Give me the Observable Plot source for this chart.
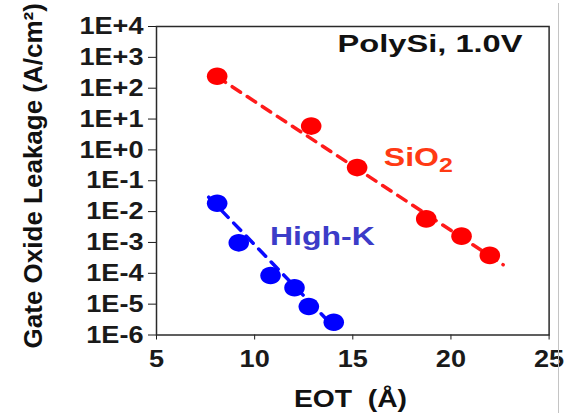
<!DOCTYPE html>
<html><head><meta charset="utf-8">
<script src="https://cdn.jsdelivr.net/npm/d3@7"></script>
<script src="https://cdn.jsdelivr.net/npm/@observablehq/plot@0.6"></script>
<style>
html,body{margin:0;padding:0;background:#fff;}
#wrap{position:relative;width:569px;height:413px;overflow:hidden;}
#edge{position:absolute;left:558px;top:3px;width:1px;height:410px;background:#c4c4c4;}
</style></head><body>
<div id="wrap"><div id="chart"></div><div id="edge"></div></div>
<script>
// ---- data ----
const sio2EOT  = [8.09, 12.88, 15.22, 18.74, 20.54, 21.98];
const sio2Leak = [243, 5.9, 0.267, 0.0058, 0.0016, 0.00038];
const highkEOT  = [8.09, 9.19, 10.81, 12.03, 12.76, 14.03];
const highkLeak = [0.0187, 9.7e-4, 8.5e-5, 3.4e-5, 8.4e-6, 2.6e-6];
const sio2FitEOT  = [8.09, 22.66];
const sio2FitLeak = [234, 1.9e-4];
const highkFitEOT  = [7.66, 14.12];
const highkFitLeak = [0.0293, 1.6e-6];
const xTicks = [5, 10, 15, 20, 25];
const yTicks = [1e-6, 1e-5, 1e-4, 1e-3, 1e-2, 1e-1, 1e0, 1e1, 1e2, 1e3, 1e4];
const yTickLabels = ["1E-6","1E-5","1E-4","1E-3","1E-2","1E-1","1E+0","1E+1","1E+2","1E+3","1E+4"];
const xLabel = "EOT\u00A0\u00A0(Å)";
const yLabel = "Gate Oxide Leakage (A/cm²)";
const titleText = "PolySi, 1.0V";
const seriesNames = ["SiO2", "High-K"];
const seriesLabelEOT = [16.58, 10.78];
const seriesLabelLeak = [1.09, 3.1e-3];

const rows = (xs, ys) => xs.map((x, i) => ({x, y: ys[i]}));
const yLabelOf = new Map(yTicks.map((t, i) => [t, yTickLabels[i]]));

// ellipse symbol (dots in the reference are slightly wider than tall)
const ellipse = {
  draw(ctx, size) {
    const r = Math.sqrt(size / Math.PI), a = r * 1.17, b = r, k = 0.5523;
    ctx.moveTo(a, 0);
    ctx.bezierCurveTo(a, k * b, k * a, b, 0, b);
    ctx.bezierCurveTo(-k * a, b, -a, k * b, -a, 0);
    ctx.bezierCurveTo(-a, -k * b, -k * a, -b, 0, -b);
    ctx.bezierCurveTo(k * a, -b, a, -k * b, a, 0);
    ctx.closePath();
  }
};

const FONT = "'Liberation Sans', Arial, Helvetica, sans-serif";
const svg = Plot.plot({
  width: 569, height: 413,
  marginLeft: 156, marginRight: 20.4, marginTop: 26, marginBottom: 78.5,
  style: {fontFamily: FONT, fontSize: "24px", fontWeight: "bold", color: "#1a1a1a", background: "#fff", overflow: "visible"},
  x: {domain: [5, 25], ticks: xTicks, tickSize: 5, tickPadding: 10, label: null, tickFormat: d => String(d)},
  y: {type: "log", domain: [1e-6, 1e4], ticks: yTicks, tickSize: 8, tickPadding: 5, label: null,
      tickFormat: d => yLabelOf.get(d) ?? ""},
  marks: [
    Plot.line(rows(sio2FitEOT, sio2FitLeak), {x: "x", y: "y", stroke: "#ff1a1a", strokeWidth: 3.5, strokeDasharray: "10,8"}),
    Plot.line(rows(highkFitEOT, highkFitLeak), {x: "x", y: "y", stroke: "#0a0aff", strokeWidth: 3.5, strokeDasharray: "10,8"}),
    Plot.dot(rows(sio2EOT, sio2Leak), {x: "x", y: "y", r: 8.8, symbol: ellipse, fill: "#ff0000", stroke: "none"}),
    Plot.dot(rows(highkEOT, highkLeak), {x: "x", y: "y", r: 8.8, symbol: ellipse, fill: "#0000ff", stroke: "none"}),
    Plot.text([seriesNames[0]], {x: [seriesLabelEOT[0]], y: [seriesLabelLeak[0]], text: d => d, textAnchor: "start", lineAnchor: "top", fontSize: 25, fill: "#ff3a14"}),
    Plot.text([seriesNames[1]], {x: [seriesLabelEOT[1]], y: [seriesLabelLeak[1]], text: d => d, textAnchor: "start", lineAnchor: "top", fontSize: 25, fill: "#3c3cc8"}),
    Plot.text([titleText], {frameAnchor: "top-right", text: d => d, textAnchor: "end", lineAnchor: "top", dx: -26.6, dy: 8.3, fontSize: 24, fill: "#111"}),
    Plot.text([xLabel], {frameAnchor: "bottom", text: d => d, textAnchor: "middle", lineAnchor: "top", dx: -2.3, dy: 55.5, fontSize: 23, fill: "#111"}),
    Plot.text([yLabel], {frameAnchor: "left", text: d => d, rotate: -90, textAnchor: "middle", lineAnchor: "top", dx: -133, dy: -5, fontSize: 26, fill: "#111"}),
    Plot.frame({stroke: "#2a2a2a", strokeWidth: 1.5})
  ]
});

// horizontal widening of the text, as in the reference
const tickStrings = new Set([...yTickLabels, ...xTicks.map(String)]);
svg.querySelectorAll("text").forEach(t => {
  const s = t.textContent;
  let k = 1;
  if (tickStrings.has(s)) k = 1.13;
  else if (s === titleText) k = 1.36;
  else if (seriesNames.includes(s)) k = 1.28;
  else if (s === xLabel) k = 1.23;
  if (k !== 1) {
    const x = parseFloat(t.getAttribute("x")) || 0;
    const tr = t.getAttribute("transform") || "";
    t.setAttribute("transform", `${tr} translate(${x},0) scale(${k},1) translate(${-x},0)`);
  }
  if (s === "SiO2") {
    t.textContent = "SiO";
    const ts = document.createElementNS("http://www.w3.org/2000/svg", "tspan");
    ts.setAttribute("font-size", "0.78em");
    ts.setAttribute("dy", "0.29em");
    ts.textContent = "2";
    t.appendChild(ts);
  }
});
document.getElementById("chart").appendChild(svg);
</script>
</body></html>
